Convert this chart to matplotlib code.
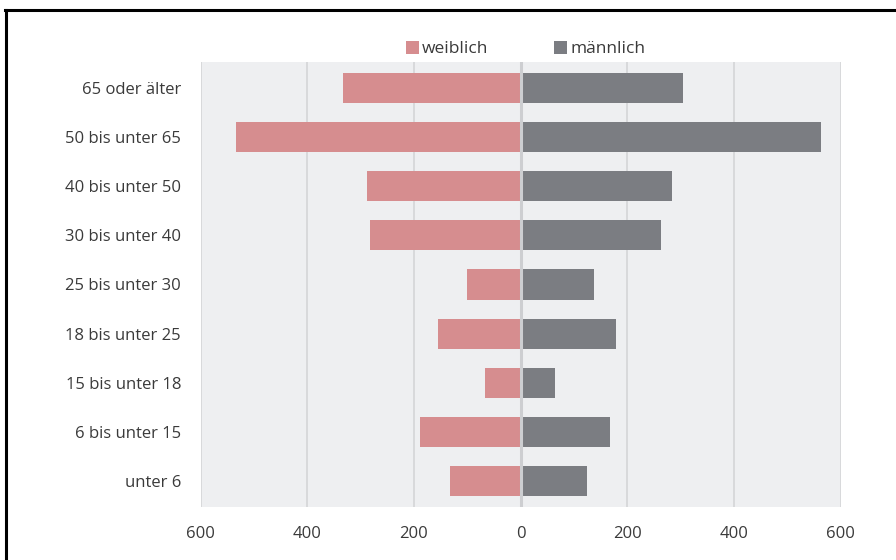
import matplotlib
matplotlib.use("Agg")
import matplotlib.pyplot as plt
from matplotlib.patches import Patch
from matplotlib.lines import Line2D

# Altersgruppen, von oben nach unten
age_groups = ["65 oder älter", "50 bis unter 65", "40 bis unter 50", "30 bis unter 40",
              "25 bis unter 30", "18 bis unter 25", "15 bis unter 18", "6 bis unter 15",
              "unter 6"]
weiblich = [332, 533, 287, 283, 101, 154, 67, 189, 133]
maennlich = [305, 563, 283, 264, 137, 179, 65, 167, 125]
x_ticks = [-600, -400, -200, 0, 200, 400, 600]
x_ticklabels = ["600", "400", "200", "0", "200", "400", "600"]

col_w = "#d68d8f"
col_m = "#7b7d82"
text_col = "#3a3a3a"

plt.rcParams["font.family"] = ["Open Sans", "DejaVu Sans"]

fig = plt.figure(figsize=(8.96, 5.6), dpi=100)
ax = fig.add_axes([200.5 / 896, 1 - 507 / 560, 640.2 / 896, 445 / 560])
ax.set_facecolor("#eeeff1")

y = list(range(len(age_groups)))
ax.barh(y, [-v for v in weiblich], height=0.61, color=col_w, zorder=2)
ax.barh(y, maennlich, height=0.61, color=col_m, zorder=2)

# vertical grid lines and zero line
for xt in x_ticks:
    if xt == 0:
        ax.axvline(0, color="#cdced1", lw=2.2, zorder=3)
    else:
        ax.axvline(xt, color="#d8d9db", lw=1.4, zorder=1)

ax.set_xlim(-600, 600)
ax.set_ylim(8.52, -0.52)
ax.set_yticks(y)
ax.set_yticklabels(age_groups, fontsize=12, color=text_col)
ax.set_xticks(x_ticks)
ax.set_xticklabels(x_ticklabels, fontsize=12, color=text_col)
ax.tick_params(axis="both", length=0)
ax.tick_params(axis="y", pad=14)
ax.tick_params(axis="x", pad=14)
for s in ax.spines.values():
    s.set_visible(False)

handles = [Patch(facecolor=col_w, label="weiblich"), Patch(facecolor=col_m, label="männlich")]
leg = ax.legend(handles=handles, loc="center", bbox_to_anchor=(0.508, 1.0 + 13 / 445),
                ncol=2, frameon=False, fontsize=12.5, handlelength=0.75, handleheight=0.75,
                handletextpad=0.2, columnspacing=3.8, borderaxespad=0)
for t in leg.get_texts():
    t.set_color(text_col)

# black frame lines (top and left) of the original picture
fig.add_artist(Line2D([5 / 896, 1], [1 - 9.5 / 560, 1 - 9.5 / 560], color="black", lw=2.2))
fig.add_artist(Line2D([6 / 896, 6 / 896], [0, 1 - 9.5 / 560], color="black", lw=2.2))

fig.savefig("out.png", dpi=100)
